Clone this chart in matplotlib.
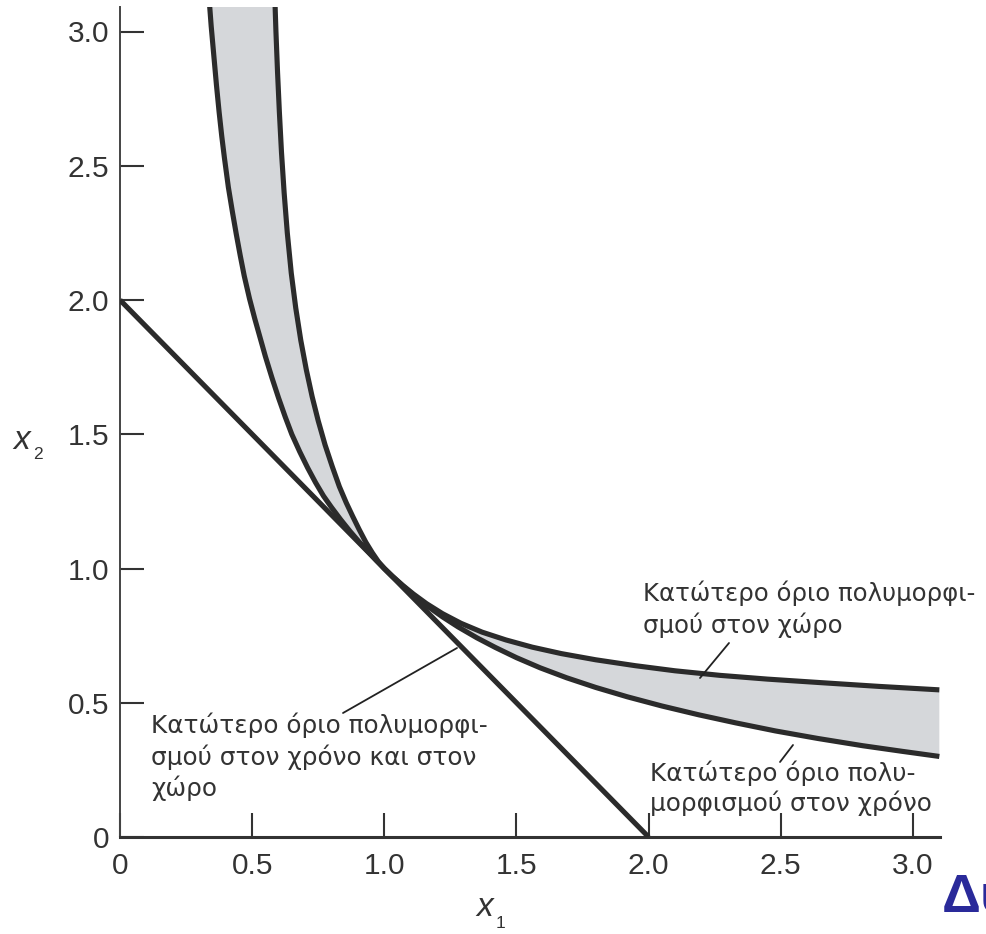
import matplotlib
matplotlib.use('Agg')
import matplotlib.pyplot as plt
import numpy as np

plt.rcParams['font.family'] = ['Liberation Sans', 'DejaVu Sans']

# ---------------- data ----------------
# straight line: lower bound of polymorphism in time and space
line_x = [0.0, 2.0]
line_y = [2.0, 0.0]

# lower bound of polymorphism in time (outer-left / lower-right curve)
time_x = [0.335, 0.345, 0.355, 0.365, 0.375, 0.385, 0.395, 0.41, 0.425, 0.44,
          0.455, 0.47, 0.49, 0.51, 0.53, 0.55, 0.575, 0.60, 0.625, 0.65,
          0.68, 0.71, 0.74, 0.77, 0.80, 0.835, 0.87, 0.905, 0.94, 0.97,
          1.00, 1.03, 1.07, 1.11, 1.16, 1.22, 1.28, 1.35, 1.42, 1.50,
          1.59, 1.69, 1.80, 1.92, 2.05, 2.19, 2.33, 2.48, 2.64, 2.81,
          2.96, 3.10]
time_y = [3.15, 3.02, 2.91, 2.80, 2.70, 2.61, 2.53, 2.42, 2.33, 2.245,
          2.165, 2.09, 2.005, 1.93, 1.86, 1.79, 1.71, 1.635, 1.565, 1.50,
          1.435, 1.375, 1.32, 1.27, 1.228, 1.182, 1.139, 1.099, 1.062, 1.03,
          1.00, 0.971, 0.935, 0.901, 0.862, 0.82, 0.782, 0.742, 0.706, 0.668,
          0.63, 0.593, 0.557, 0.522, 0.488, 0.455, 0.425, 0.395, 0.367, 0.34,
          0.319, 0.30]

# lower bound of polymorphism in space (inner-right / upper-right curve)
space_x = [0.585, 0.590, 0.596, 0.603, 0.611, 0.621, 0.633, 0.648, 0.665, 0.684,
           0.705, 0.727, 0.75, 0.776, 0.803, 0.83, 0.856, 0.88, 0.905, 0.93,
           0.955, 0.978, 1.00, 1.03, 1.07, 1.11, 1.16, 1.22, 1.29, 1.37,
           1.46, 1.56, 1.67, 1.80, 1.95, 2.10, 2.27, 2.45, 2.65, 2.87,
           3.10]
space_y = [3.15, 3.00, 2.85, 2.70, 2.55, 2.40, 2.25, 2.10, 1.97, 1.85,
           1.74, 1.64, 1.55, 1.46, 1.38, 1.305, 1.245, 1.195, 1.145, 1.098,
           1.058, 1.025, 1.00, 0.972, 0.937, 0.905, 0.869, 0.832, 0.796, 0.763,
           0.734, 0.707, 0.683, 0.66, 0.638, 0.619, 0.602, 0.588, 0.575, 0.561,
           0.548]

ticks = [0, 0.5, 1.0, 1.5, 2.0, 2.5, 3.0]
tick_labels = ['0', '0.5', '1.0', '1.5', '2.0', '2.5', '3.0']

label_space = "Κατώτερο όριο πολυμορφι-\nσμού στον χώρο"
label_time = "Κατώτερο όριο πολυ-\nμορφισμού στον χρόνο"
label_both = "Κατώτερο όριο πολυμορφι-\nσμού στον χρόνο και στον\nχώρο"

# ---------------- layout ----------------
W, H = 987, 934
fig = plt.figure(figsize=(W / 100, H / 100), dpi=100)
X0, X1, Y0, Y1 = 120, 940, 837, 7
SX, SY = 264.3, 268.5
ax = fig.add_axes([X0 / W, 1 - Y0 / H, (X1 - X0) / W, (Y0 - Y1) / H])
ax.set_xlim(0, (X1 - X0) / SX)
ax.set_ylim(0, (Y0 - Y1) / SY)


def fpos(px, py):
    return px / W, 1 - py / H


def dpos(px, py):
    return (px - X0) / SX, (Y0 - py) / SY


ink = '#2b2b2b'
txt = '#333333'

# band between the two curves
ax.fill(np.r_[time_x, space_x[::-1]], np.r_[time_y, space_y[::-1]],
        color='#d5d7da', lw=0, zorder=1)
ax.plot(time_x, time_y, color=ink, lw=3.7, solid_joinstyle='round',
        solid_capstyle='butt', zorder=3)
ax.plot(space_x, space_y, color=ink, lw=3.7, solid_joinstyle='round',
        solid_capstyle='butt', zorder=3)
ax.plot(line_x, line_y, color=ink, lw=3.7, solid_capstyle='butt', zorder=3)

# spines / ticks
for s in ('top', 'right'):
    ax.spines[s].set_visible(False)
ax.spines['left'].set_linewidth(1.4)
ax.spines['left'].set_color('#444444')
ax.spines['bottom'].set_linewidth(2.2)
ax.spines['bottom'].set_color('#333333')
ax.set_xticks(ticks)
ax.set_xticklabels(tick_labels)
ax.set_yticks(ticks)
ax.set_yticklabels(tick_labels)
ax.tick_params(axis='both', direction='in', length=17, width=1.5,
               color='#333333', labelcolor=txt, labelsize=21.5)
ax.tick_params(axis='y', pad=8)
ax.tick_params(axis='x', pad=11)

# annotations
afam = ['DejaVu Sans']
fig.text(*fpos(643, 581), label_space, fontsize=17.6, color=txt, family=afam,
         ha='left', va='top', linespacing=1.27)
fig.text(*fpos(650, 760), label_time, fontsize=17.8, color=txt, family=afam,
         ha='left', va='top', linespacing=1.22)
fig.text(*fpos(151, 713), label_both, fontsize=17.8, color=txt, family=afam,
         ha='left', va='top', linespacing=1.28)

lk = dict(arrowstyle='-', color='#222222', lw=1.3, shrinkA=0, shrinkB=0)
ax.annotate('', xy=dpos(700, 678), xytext=dpos(729, 643), arrowprops=lk, zorder=4)
ax.annotate('', xy=dpos(793, 745), xytext=dpos(780, 762), arrowprops=lk, zorder=4)
ax.annotate('', xy=dpos(457, 648), xytext=dpos(343, 713), arrowprops=lk, zorder=4)

# axis labels
fig.text(*fpos(13, 449), 'x', fontsize=24, style='italic', color=txt,
         ha='left', va='baseline')
fig.text(*fpos(33, 459), '2', fontsize=12.5, color=txt, ha='left', va='baseline')
fig.text(*fpos(476, 916), 'x', fontsize=24, style='italic', color=txt,
         ha='left', va='baseline')
fig.text(*fpos(496, 928), '1', fontsize=12.5, color=txt, ha='left', va='baseline')

# clipped slide title
fig.text(*fpos(942, 912), 'Δυ', fontsize=39, fontweight='bold', color='#2a2a9a',
         ha='left', va='baseline')

fig.savefig('out.png', dpi=100)
